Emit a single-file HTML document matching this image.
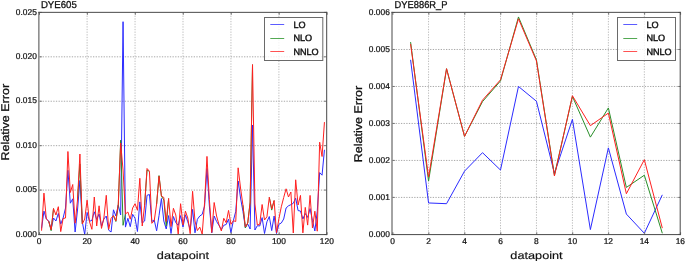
<!DOCTYPE html>
<html><head><meta charset="utf-8"><style>
html,body{margin:0;padding:0;background:#fff;width:685px;height:261px;overflow:hidden}
</style></head><body>
<svg width="685" height="261" viewBox="0 0 685 261" style="position:absolute;left:0;top:0;opacity:0.999">
<rect width="685" height="261" fill="#fff"/>
<line x1="87.1" y1="13" x2="87.1" y2="234" stroke="#bdbdbd" stroke-width="1" stroke-dasharray="1.3 1.35"/>
<line x1="135.05" y1="13" x2="135.05" y2="234" stroke="#bdbdbd" stroke-width="1" stroke-dasharray="1.3 1.35"/>
<line x1="183.0" y1="13" x2="183.0" y2="234" stroke="#bdbdbd" stroke-width="1" stroke-dasharray="1.3 1.35"/>
<line x1="230.95" y1="13" x2="230.95" y2="234" stroke="#bdbdbd" stroke-width="1" stroke-dasharray="1.3 1.35"/>
<line x1="278.9" y1="13" x2="278.9" y2="234" stroke="#bdbdbd" stroke-width="1" stroke-dasharray="1.3 1.35"/>
<line x1="40" y1="190.08" x2="326" y2="190.08" stroke="#a8a8a8" stroke-width="1" stroke-dasharray="1.3 1.35"/>
<line x1="40" y1="145.66" x2="326" y2="145.66" stroke="#a8a8a8" stroke-width="1" stroke-dasharray="1.3 1.35"/>
<line x1="40" y1="101.24" x2="326" y2="101.24" stroke="#a8a8a8" stroke-width="1" stroke-dasharray="1.3 1.35"/>
<line x1="40" y1="56.82" x2="326" y2="56.82" stroke="#a8a8a8" stroke-width="1" stroke-dasharray="1.3 1.35"/>
<polyline points="41.55,228.50 43.95,211.10 46.34,219.00 48.74,221.00 51.14,229.30 53.53,218.00 55.93,221.00 58.33,213.40 60.73,224.10 63.12,218.00 65.52,208.00 67.92,170.30 70.32,203.20 72.72,198.80 75.11,232.00 77.51,210.00 79.91,180.50 82.31,222.00 84.70,234.40 87.10,212.50 89.50,221.30 91.90,220.40 94.29,211.80 96.69,219.50 99.09,214.00 101.49,226.20 103.88,219.00 106.28,216.00 108.68,230.20 111.08,232.00 113.47,209.80 115.87,216.00 118.27,205.00 120.67,215.00 123.06,21.70 125.46,227.10 127.86,218.30 130.26,226.70 132.65,214.30 135.05,218.30 137.45,231.50 139.84,201.90 142.24,223.00 144.64,221.00 147.04,195.30 149.44,194.50 151.83,221.50 154.23,220.00 156.63,230.80 159.03,215.60 161.42,198.50 163.82,221.00 166.22,229.00 168.62,215.60 171.01,233.50 173.41,216.50 175.81,222.70 178.21,225.30 180.60,215.60 183.00,227.10 185.40,214.80 187.80,221.80 190.19,229.30 192.59,209.40 194.99,232.80 197.39,219.30 199.78,216.00 202.18,214.40 204.58,206.00 206.98,168.50 209.37,206.00 211.77,232.80 214.17,216.00 216.57,221.50 218.96,225.30 221.36,229.70 223.76,225.30 226.16,224.50 228.55,219.20 230.95,232.80 233.35,220.70 235.75,211.30 238.14,181.00 240.54,198.00 242.94,211.30 245.34,227.40 247.73,224.00 250.13,229.00 252.53,125.00 254.93,230.00 257.32,225.70 259.72,226.00 262.12,217.60 264.52,233.50 266.91,221.80 269.31,216.50 271.71,230.60 274.11,216.00 276.50,233.60 278.90,224.30 281.30,223.00 283.70,219.00 286.09,208.00 288.49,205.80 290.89,204.70 293.29,203.30 295.68,198.20 298.08,210.60 300.48,211.00 302.88,219.00 305.27,213.50 307.67,217.40 310.07,208.60 312.46,220.50 314.86,231.00 317.26,211.30 319.66,172.60 322.06,175.20 324.45,149.80" fill="none" stroke="#2b2bff" stroke-width="1.0" stroke-linejoin="round"/>
<polyline points="48.74,221.30 51.14,230.70 53.53,208.50" fill="none" stroke="#2a8f2a" stroke-width="1.0" stroke-linejoin="round"/>
<polyline points="77.51,200.00 79.91,164.00 82.31,224.00" fill="none" stroke="#2a8f2a" stroke-width="1.0" stroke-linejoin="round"/>
<polyline points="113.47,215.60 115.87,221.50 118.27,206.00 120.67,140.20 123.06,225.30 125.46,214.00" fill="none" stroke="#2a8f2a" stroke-width="1.0" stroke-linejoin="round"/>
<polyline points="144.64,205.00 147.04,170.20 149.44,171.30" fill="none" stroke="#2a8f2a" stroke-width="1.0" stroke-linejoin="round"/>
<polyline points="156.63,204.00 159.03,175.60 161.42,196.00 163.82,200.00 166.22,226.00 168.62,198.50" fill="none" stroke="#2a8f2a" stroke-width="1.0" stroke-linejoin="round"/>
<polyline points="242.94,205.20 245.34,228.00 247.73,223.00 250.13,202.00 252.53,64.60" fill="none" stroke="#2a8f2a" stroke-width="1.0" stroke-linejoin="round"/>
<polyline points="269.31,197.30 271.71,210.10 274.11,200.50" fill="none" stroke="#2a8f2a" stroke-width="1.0" stroke-linejoin="round"/>
<polyline points="41.55,230.70 43.95,193.10 46.34,219.00 48.74,221.30 51.14,229.80 53.53,208.50 55.93,215.00 58.33,206.70 60.73,231.60 63.12,218.50 65.52,218.00 67.92,151.50 70.32,192.50 72.72,184.50 75.11,223.20 77.51,200.00 79.91,154.00 82.31,224.00 84.70,219.00 87.10,200.10 89.50,221.80 91.90,229.30 94.29,197.00 96.69,226.00 99.09,205.80 101.49,228.40 103.88,218.00 106.28,195.30 108.68,229.30 111.08,218.30 113.47,215.60 115.87,221.00 118.27,204.00 120.67,143.00 123.06,170.00 125.46,214.00 127.86,212.00 130.26,219.20 132.65,208.00 135.05,203.70 137.45,210.30 139.84,178.30 142.24,226.00 144.64,205.00 147.04,168.50 149.44,171.30 151.83,223.30 154.23,220.80 156.63,204.00 159.03,176.20 161.42,196.00 163.82,197.50 166.22,221.50 168.62,198.50 171.01,226.50 173.41,208.30 175.81,215.00 178.21,234.00 180.60,203.70 183.00,225.00 185.40,211.10 187.80,218.00 190.19,233.70 192.59,191.30 194.99,221.00 197.39,230.60 199.78,227.10 202.18,234.00 204.58,202.80 206.98,156.40 209.37,199.50 211.77,232.50 214.17,202.50 216.57,216.00 218.96,224.50 221.36,231.00 223.76,218.30 226.16,222.70 228.55,210.40 230.95,224.40 233.35,220.70 235.75,221.50 238.14,167.80 240.54,188.00 242.94,205.20 245.34,227.00 247.73,223.00 250.13,203.00 252.53,64.60 254.93,204.00 257.32,225.00 259.72,224.20 262.12,204.50 264.52,220.00 266.91,216.80 269.31,197.30 271.71,208.90 274.11,200.50 276.50,232.80 278.90,218.80 281.30,206.80 283.70,197.50 286.09,188.80 288.49,197.00 290.89,192.00 293.29,233.00 295.68,179.80 298.08,205.00 300.48,195.40 302.88,232.90 305.27,207.40 307.67,225.10 310.07,195.40 312.46,228.00 314.86,211.20 317.26,231.20 319.66,142.20 322.06,156.50 324.45,122.10" fill="none" stroke="#ff2020" stroke-width="1.0" stroke-linejoin="round"/>
<line x1="39.45" y1="234.5" x2="39.45" y2="232.2" stroke="#777" stroke-width="1"/>
<line x1="39.45" y1="12.5" x2="39.45" y2="14.8" stroke="#777" stroke-width="1"/>
<line x1="87.4" y1="234.5" x2="87.4" y2="232.2" stroke="#777" stroke-width="1"/>
<line x1="87.4" y1="12.5" x2="87.4" y2="14.8" stroke="#777" stroke-width="1"/>
<line x1="135.35" y1="234.5" x2="135.35" y2="232.2" stroke="#777" stroke-width="1"/>
<line x1="135.35" y1="12.5" x2="135.35" y2="14.8" stroke="#777" stroke-width="1"/>
<line x1="183.3" y1="234.5" x2="183.3" y2="232.2" stroke="#777" stroke-width="1"/>
<line x1="183.3" y1="12.5" x2="183.3" y2="14.8" stroke="#777" stroke-width="1"/>
<line x1="231.25" y1="234.5" x2="231.25" y2="232.2" stroke="#777" stroke-width="1"/>
<line x1="231.25" y1="12.5" x2="231.25" y2="14.8" stroke="#777" stroke-width="1"/>
<line x1="279.2" y1="234.5" x2="279.2" y2="232.2" stroke="#777" stroke-width="1"/>
<line x1="279.2" y1="12.5" x2="279.2" y2="14.8" stroke="#777" stroke-width="1"/>
<line x1="327.15" y1="234.5" x2="327.15" y2="232.2" stroke="#777" stroke-width="1"/>
<line x1="327.15" y1="12.5" x2="327.15" y2="14.8" stroke="#777" stroke-width="1"/>
<line x1="39.5" y1="234.5" x2="41.8" y2="234.5" stroke="#777" stroke-width="1"/>
<line x1="326.5" y1="234.5" x2="324.2" y2="234.5" stroke="#777" stroke-width="1"/>
<line x1="39.5" y1="190.08" x2="41.8" y2="190.08" stroke="#777" stroke-width="1"/>
<line x1="326.5" y1="190.08" x2="324.2" y2="190.08" stroke="#777" stroke-width="1"/>
<line x1="39.5" y1="145.66" x2="41.8" y2="145.66" stroke="#777" stroke-width="1"/>
<line x1="326.5" y1="145.66" x2="324.2" y2="145.66" stroke="#777" stroke-width="1"/>
<line x1="39.5" y1="101.24" x2="41.8" y2="101.24" stroke="#777" stroke-width="1"/>
<line x1="326.5" y1="101.24" x2="324.2" y2="101.24" stroke="#777" stroke-width="1"/>
<line x1="39.5" y1="56.82" x2="41.8" y2="56.82" stroke="#777" stroke-width="1"/>
<line x1="326.5" y1="56.82" x2="324.2" y2="56.82" stroke="#777" stroke-width="1"/>
<line x1="39.5" y1="12.4" x2="41.8" y2="12.4" stroke="#777" stroke-width="1"/>
<line x1="326.5" y1="12.4" x2="324.2" y2="12.4" stroke="#777" stroke-width="1"/>
<line x1="38.9" y1="11.85" x2="38.9" y2="235.1" stroke="#484848" stroke-width="1"/>
<line x1="326.7" y1="11.85" x2="326.7" y2="235.1" stroke="#484848" stroke-width="1"/>
<line x1="38.4" y1="12.35" x2="327.2" y2="12.35" stroke="#484848" stroke-width="1"/>
<line x1="38.4" y1="234.6" x2="327.2" y2="234.6" stroke="#484848" stroke-width="1"/>
<rect x="264.5" y="17.5" width="58.30000000000001" height="43" fill="#fff" fill-opacity="0.8" stroke="#6a6a6a" stroke-width="1"/>
<line x1="270.3" y1="24.5" x2="284.2" y2="24.5" stroke="#4a4aff" stroke-width="0.9"/>
<line x1="270.3" y1="38.5" x2="284.2" y2="38.5" stroke="#3f9f3f" stroke-width="0.9"/>
<line x1="270.3" y1="51.5" x2="284.2" y2="51.5" stroke="#ff4040" stroke-width="0.9"/>
<line x1="428.56" y1="13" x2="428.56" y2="234" stroke="#bdbdbd" stroke-width="1" stroke-dasharray="1.3 1.35"/>
<line x1="464.52" y1="13" x2="464.52" y2="234" stroke="#bdbdbd" stroke-width="1" stroke-dasharray="1.3 1.35"/>
<line x1="500.49" y1="13" x2="500.49" y2="234" stroke="#bdbdbd" stroke-width="1" stroke-dasharray="1.3 1.35"/>
<line x1="536.45" y1="13" x2="536.45" y2="234" stroke="#bdbdbd" stroke-width="1" stroke-dasharray="1.3 1.35"/>
<line x1="572.41" y1="13" x2="572.41" y2="234" stroke="#bdbdbd" stroke-width="1" stroke-dasharray="1.3 1.35"/>
<line x1="608.38" y1="13" x2="608.38" y2="234" stroke="#bdbdbd" stroke-width="1" stroke-dasharray="1.3 1.35"/>
<line x1="644.34" y1="13" x2="644.34" y2="234" stroke="#bdbdbd" stroke-width="1" stroke-dasharray="1.3 1.35"/>
<line x1="393" y1="197.42" x2="680" y2="197.42" stroke="#a8a8a8" stroke-width="1" stroke-dasharray="1.3 1.35"/>
<line x1="393" y1="160.43" x2="680" y2="160.43" stroke="#a8a8a8" stroke-width="1" stroke-dasharray="1.3 1.35"/>
<line x1="393" y1="123.45" x2="680" y2="123.45" stroke="#a8a8a8" stroke-width="1" stroke-dasharray="1.3 1.35"/>
<line x1="393" y1="86.47" x2="680" y2="86.47" stroke="#a8a8a8" stroke-width="1" stroke-dasharray="1.3 1.35"/>
<line x1="393" y1="49.48" x2="680" y2="49.48" stroke="#a8a8a8" stroke-width="1" stroke-dasharray="1.3 1.35"/>
<polyline points="410.58,59.84 428.56,202.96 446.54,203.70 464.52,171.16 482.51,152.67 500.49,170.05 518.47,86.47 536.45,101.26 554.43,173.38 572.41,119.38 590.39,229.59 608.38,147.86 626.36,214.06 644.34,233.29 662.32,194.83" fill="none" stroke="#2b2bff" stroke-width="1.0" stroke-linejoin="round"/>
<polyline points="410.58,42.09 428.56,181.14 446.54,68.71 464.52,136.39 482.51,101.63 500.49,80.92 518.47,16.94 536.45,59.84 554.43,175.23 572.41,96.45 590.39,137.13 608.38,107.92 626.36,187.43 644.34,175.23 662.32,233.29" fill="none" stroke="#2a8f2a" stroke-width="1.0" stroke-linejoin="round"/>
<polyline points="410.58,43.94 428.56,177.08 446.54,68.71 464.52,136.39 482.51,100.15 500.49,79.81 518.47,18.79 536.45,60.95 554.43,175.97 572.41,95.71 590.39,125.67 608.38,113.09 626.36,193.72 644.34,159.69 662.32,228.11" fill="none" stroke="#ff2020" stroke-width="1.0" stroke-linejoin="round"/>
<line x1="392.9" y1="234.5" x2="392.9" y2="232.2" stroke="#777" stroke-width="1"/>
<line x1="392.9" y1="12.5" x2="392.9" y2="14.8" stroke="#777" stroke-width="1"/>
<line x1="428.86" y1="234.5" x2="428.86" y2="232.2" stroke="#777" stroke-width="1"/>
<line x1="428.86" y1="12.5" x2="428.86" y2="14.8" stroke="#777" stroke-width="1"/>
<line x1="464.82" y1="234.5" x2="464.82" y2="232.2" stroke="#777" stroke-width="1"/>
<line x1="464.82" y1="12.5" x2="464.82" y2="14.8" stroke="#777" stroke-width="1"/>
<line x1="500.79" y1="234.5" x2="500.79" y2="232.2" stroke="#777" stroke-width="1"/>
<line x1="500.79" y1="12.5" x2="500.79" y2="14.8" stroke="#777" stroke-width="1"/>
<line x1="536.75" y1="234.5" x2="536.75" y2="232.2" stroke="#777" stroke-width="1"/>
<line x1="536.75" y1="12.5" x2="536.75" y2="14.8" stroke="#777" stroke-width="1"/>
<line x1="572.71" y1="234.5" x2="572.71" y2="232.2" stroke="#777" stroke-width="1"/>
<line x1="572.71" y1="12.5" x2="572.71" y2="14.8" stroke="#777" stroke-width="1"/>
<line x1="608.67" y1="234.5" x2="608.67" y2="232.2" stroke="#777" stroke-width="1"/>
<line x1="608.67" y1="12.5" x2="608.67" y2="14.8" stroke="#777" stroke-width="1"/>
<line x1="644.64" y1="234.5" x2="644.64" y2="232.2" stroke="#777" stroke-width="1"/>
<line x1="644.64" y1="12.5" x2="644.64" y2="14.8" stroke="#777" stroke-width="1"/>
<line x1="680.6" y1="234.5" x2="680.6" y2="232.2" stroke="#777" stroke-width="1"/>
<line x1="680.6" y1="12.5" x2="680.6" y2="14.8" stroke="#777" stroke-width="1"/>
<line x1="392.5" y1="234.4" x2="394.8" y2="234.4" stroke="#777" stroke-width="1"/>
<line x1="680.5" y1="234.4" x2="678.2" y2="234.4" stroke="#777" stroke-width="1"/>
<line x1="392.5" y1="197.42" x2="394.8" y2="197.42" stroke="#777" stroke-width="1"/>
<line x1="680.5" y1="197.42" x2="678.2" y2="197.42" stroke="#777" stroke-width="1"/>
<line x1="392.5" y1="160.43" x2="394.8" y2="160.43" stroke="#777" stroke-width="1"/>
<line x1="680.5" y1="160.43" x2="678.2" y2="160.43" stroke="#777" stroke-width="1"/>
<line x1="392.5" y1="123.45" x2="394.8" y2="123.45" stroke="#777" stroke-width="1"/>
<line x1="680.5" y1="123.45" x2="678.2" y2="123.45" stroke="#777" stroke-width="1"/>
<line x1="392.5" y1="86.47" x2="394.8" y2="86.47" stroke="#777" stroke-width="1"/>
<line x1="680.5" y1="86.47" x2="678.2" y2="86.47" stroke="#777" stroke-width="1"/>
<line x1="392.5" y1="49.48" x2="394.8" y2="49.48" stroke="#777" stroke-width="1"/>
<line x1="680.5" y1="49.48" x2="678.2" y2="49.48" stroke="#777" stroke-width="1"/>
<line x1="392.5" y1="12.5" x2="394.8" y2="12.5" stroke="#777" stroke-width="1"/>
<line x1="680.5" y1="12.5" x2="678.2" y2="12.5" stroke="#777" stroke-width="1"/>
<line x1="392.0" y1="11.85" x2="392.0" y2="235.1" stroke="#484848" stroke-width="1"/>
<line x1="680.2" y1="11.85" x2="680.2" y2="235.1" stroke="#484848" stroke-width="1"/>
<line x1="391.5" y1="12.35" x2="680.7" y2="12.35" stroke="#484848" stroke-width="1"/>
<line x1="391.5" y1="234.6" x2="680.7" y2="234.6" stroke="#484848" stroke-width="1"/>
<rect x="617.5" y="17.5" width="58" height="43" fill="#fff" fill-opacity="0.8" stroke="#6a6a6a" stroke-width="1"/>
<line x1="623.3" y1="24.5" x2="637.2" y2="24.5" stroke="#4a4aff" stroke-width="0.9"/>
<line x1="623.3" y1="38.5" x2="637.2" y2="38.5" stroke="#3f9f3f" stroke-width="0.9"/>
<line x1="623.3" y1="51.5" x2="637.2" y2="51.5" stroke="#ff4040" stroke-width="0.9"/>
</svg>
<svg width="685" height="261" viewBox="0 0 685 261" style="position:absolute;left:0;top:0;filter:grayscale(1);text-rendering:geometricPrecision">
<text x="293.4" y="27.599999999999998" font-size="9.1" font-family='"Liberation Sans", sans-serif' fill="#111" stroke="#111" stroke-width="0.4">LO</text>
<text x="293.4" y="41.25" font-size="9.1" font-family='"Liberation Sans", sans-serif' fill="#111" stroke="#111" stroke-width="0.4">NLO</text>
<text x="293.4" y="54.900000000000006" font-size="9.1" font-family='"Liberation Sans", sans-serif' fill="#111" stroke="#111" stroke-width="0.4">NNLO</text>
<text x="39.15" y="243.6" font-size="8.4" text-anchor="middle" font-family='"Liberation Sans", sans-serif' fill="#111" stroke="#111" stroke-width="0.24">0</text>
<text x="87.10" y="243.6" font-size="8.4" text-anchor="middle" font-family='"Liberation Sans", sans-serif' fill="#111" stroke="#111" stroke-width="0.24">20</text>
<text x="135.05" y="243.6" font-size="8.4" text-anchor="middle" font-family='"Liberation Sans", sans-serif' fill="#111" stroke="#111" stroke-width="0.24">40</text>
<text x="183.00" y="243.6" font-size="8.4" text-anchor="middle" font-family='"Liberation Sans", sans-serif' fill="#111" stroke="#111" stroke-width="0.24">60</text>
<text x="230.95" y="243.6" font-size="8.4" text-anchor="middle" font-family='"Liberation Sans", sans-serif' fill="#111" stroke="#111" stroke-width="0.24">80</text>
<text x="278.90" y="243.6" font-size="8.4" text-anchor="middle" font-family='"Liberation Sans", sans-serif' fill="#111" stroke="#111" stroke-width="0.24">100</text>
<text x="326.85" y="243.6" font-size="8.4" text-anchor="middle" font-family='"Liberation Sans", sans-serif' fill="#111" stroke="#111" stroke-width="0.24">120</text>
<text x="36.8" y="236.60" font-size="8.4" text-anchor="end" font-family='"Liberation Sans", sans-serif' fill="#111" stroke="#111" stroke-width="0.24">0.000</text>
<text x="36.8" y="192.18" font-size="8.4" text-anchor="end" font-family='"Liberation Sans", sans-serif' fill="#111" stroke="#111" stroke-width="0.24">0.005</text>
<text x="36.8" y="147.76" font-size="8.4" text-anchor="end" font-family='"Liberation Sans", sans-serif' fill="#111" stroke="#111" stroke-width="0.24">0.010</text>
<text x="36.8" y="103.34" font-size="8.4" text-anchor="end" font-family='"Liberation Sans", sans-serif' fill="#111" stroke="#111" stroke-width="0.24">0.015</text>
<text x="36.8" y="58.92" font-size="8.4" text-anchor="end" font-family='"Liberation Sans", sans-serif' fill="#111" stroke="#111" stroke-width="0.24">0.020</text>
<text x="36.8" y="14.50" font-size="8.4" text-anchor="end" font-family='"Liberation Sans", sans-serif' fill="#111" stroke="#111" stroke-width="0.24">0.025</text>
<text x="0" y="0" font-size="10.0" font-family='"Liberation Sans", sans-serif' fill="#111" stroke="#111" stroke-width="0.3" transform="translate(40.9 7.75) scale(0.963 1)">DYE605</text>
<text x="183.0" y="258.7" font-size="10.6" text-anchor="middle" font-family='"Liberation Sans", sans-serif' fill="#111" stroke="#111" stroke-width="0.15" transform="translate(183.0 0) scale(1.2 1) translate(-183.0 0)">datapoint</text>
<text x="646.4" y="27.599999999999998" font-size="9.1" font-family='"Liberation Sans", sans-serif' fill="#111" stroke="#111" stroke-width="0.4">LO</text>
<text x="646.4" y="41.25" font-size="9.1" font-family='"Liberation Sans", sans-serif' fill="#111" stroke="#111" stroke-width="0.4">NLO</text>
<text x="646.4" y="54.900000000000006" font-size="9.1" font-family='"Liberation Sans", sans-serif' fill="#111" stroke="#111" stroke-width="0.4">NNLO</text>
<text x="392.60" y="243.6" font-size="8.4" text-anchor="middle" font-family='"Liberation Sans", sans-serif' fill="#111" stroke="#111" stroke-width="0.24">0</text>
<text x="428.56" y="243.6" font-size="8.4" text-anchor="middle" font-family='"Liberation Sans", sans-serif' fill="#111" stroke="#111" stroke-width="0.24">2</text>
<text x="464.52" y="243.6" font-size="8.4" text-anchor="middle" font-family='"Liberation Sans", sans-serif' fill="#111" stroke="#111" stroke-width="0.24">4</text>
<text x="500.49" y="243.6" font-size="8.4" text-anchor="middle" font-family='"Liberation Sans", sans-serif' fill="#111" stroke="#111" stroke-width="0.24">6</text>
<text x="536.45" y="243.6" font-size="8.4" text-anchor="middle" font-family='"Liberation Sans", sans-serif' fill="#111" stroke="#111" stroke-width="0.24">8</text>
<text x="572.41" y="243.6" font-size="8.4" text-anchor="middle" font-family='"Liberation Sans", sans-serif' fill="#111" stroke="#111" stroke-width="0.24">10</text>
<text x="608.38" y="243.6" font-size="8.4" text-anchor="middle" font-family='"Liberation Sans", sans-serif' fill="#111" stroke="#111" stroke-width="0.24">12</text>
<text x="644.34" y="243.6" font-size="8.4" text-anchor="middle" font-family='"Liberation Sans", sans-serif' fill="#111" stroke="#111" stroke-width="0.24">14</text>
<text x="680.30" y="243.6" font-size="8.4" text-anchor="middle" font-family='"Liberation Sans", sans-serif' fill="#111" stroke="#111" stroke-width="0.24">16</text>
<text x="389.8" y="236.50" font-size="8.4" text-anchor="end" font-family='"Liberation Sans", sans-serif' fill="#111" stroke="#111" stroke-width="0.24">0.000</text>
<text x="389.8" y="199.52" font-size="8.4" text-anchor="end" font-family='"Liberation Sans", sans-serif' fill="#111" stroke="#111" stroke-width="0.24">0.001</text>
<text x="389.8" y="162.53" font-size="8.4" text-anchor="end" font-family='"Liberation Sans", sans-serif' fill="#111" stroke="#111" stroke-width="0.24">0.002</text>
<text x="389.8" y="125.55" font-size="8.4" text-anchor="end" font-family='"Liberation Sans", sans-serif' fill="#111" stroke="#111" stroke-width="0.24">0.003</text>
<text x="389.8" y="88.57" font-size="8.4" text-anchor="end" font-family='"Liberation Sans", sans-serif' fill="#111" stroke="#111" stroke-width="0.24">0.004</text>
<text x="389.8" y="51.58" font-size="8.4" text-anchor="end" font-family='"Liberation Sans", sans-serif' fill="#111" stroke="#111" stroke-width="0.24">0.005</text>
<text x="389.8" y="14.60" font-size="8.4" text-anchor="end" font-family='"Liberation Sans", sans-serif' fill="#111" stroke="#111" stroke-width="0.24">0.006</text>
<text x="0" y="0" font-size="10.0" font-family='"Liberation Sans", sans-serif' fill="#111" stroke="#111" stroke-width="0.3" transform="translate(394.6 7.75) scale(0.933 1)">DYE886R_P</text>
<text x="536.5" y="258.7" font-size="10.6" text-anchor="middle" font-family='"Liberation Sans", sans-serif' fill="#111" stroke="#111" stroke-width="0.15" transform="translate(536.5 0) scale(1.2 1) translate(-536.5 0)">datapoint</text>
<text x="0" y="0" font-size="11.2" text-anchor="middle" font-family='"Liberation Sans", sans-serif' fill="#111" stroke="#111" stroke-width="0.3" transform="translate(8.7 122.2) rotate(-90) scale(1.12 1)">Relative Error</text>
<text x="0" y="0" font-size="11.2" text-anchor="middle" font-family='"Liberation Sans", sans-serif' fill="#111" stroke="#111" stroke-width="0.3" transform="translate(362.3 124.05) rotate(-90) scale(1.12 1)">Relative Error</text>
</svg>
</body></html>
